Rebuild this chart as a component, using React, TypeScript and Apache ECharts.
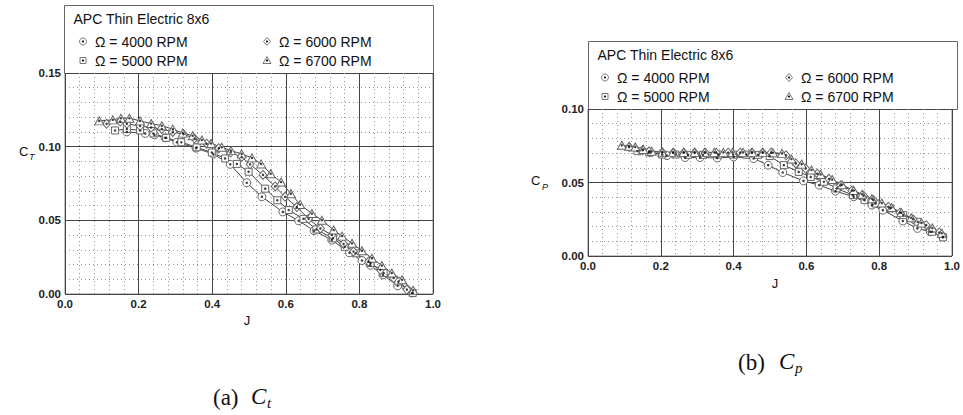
import React, { useEffect, useRef } from "react";
import * as echarts from "echarts";

// ---- Data: [J, coefficient] pairs per rotation speed ----
const seriesNames = ["Ω = 4000 RPM", "Ω = 5000 RPM", "Ω = 6000 RPM", "Ω = 6700 RPM"];

const ct4000 = [
  [0.168, 0.110], [0.218, 0.109], [0.243, 0.108], [0.272, 0.106], [0.304, 0.103],
  [0.356, 0.099], [0.403, 0.095], [0.449, 0.088], [0.494, 0.0755], [0.535, 0.066],
  [0.592, 0.0557], [0.635, 0.0497], [0.677, 0.043], [0.725, 0.0366], [0.773, 0.028],
  [0.807, 0.0227], [0.83, 0.0195], [0.864, 0.013], [0.904, 0.0056], [0.943, 0.0007],
];
const ct5000 = [
  [0.136, 0.111], [0.168, 0.112], [0.204, 0.111], [0.24, 0.109], [0.275, 0.106],
  [0.316, 0.103], [0.358, 0.0996], [0.399, 0.096], [0.435, 0.092], [0.467, 0.0883],
  [0.499, 0.083], [0.544, 0.0715], [0.577, 0.0636], [0.608, 0.057], [0.648, 0.051],
  [0.683, 0.0438], [0.728, 0.0378], [0.76, 0.032], [0.79, 0.0276], [0.83, 0.021],
  [0.866, 0.0142], [0.906, 0.0085], [0.945, 0.0007],
];
const ct6000 = [
  [0.113, 0.1155], [0.15, 0.117], [0.168, 0.1155], [0.204, 0.114], [0.234, 0.113],
  [0.263, 0.112], [0.293, 0.110], [0.322, 0.1085], [0.352, 0.1055], [0.385, 0.102],
  [0.418, 0.099], [0.45, 0.096], [0.48, 0.093], [0.503, 0.088], [0.538, 0.0808],
  [0.571, 0.073], [0.598, 0.066], [0.63, 0.059], [0.662, 0.051], [0.694, 0.0445],
  [0.725, 0.040], [0.757, 0.034], [0.784, 0.0288], [0.825, 0.022], [0.857, 0.0164],
  [0.893, 0.0108], [0.929, 0.003],
];
const ct6700 = [
  [0.093, 0.1175], [0.13, 0.1182], [0.152, 0.1193], [0.175, 0.1193], [0.204, 0.1175],
  [0.234, 0.1157], [0.263, 0.1142], [0.293, 0.1119], [0.32, 0.1092], [0.347, 0.1074],
  [0.372, 0.1045], [0.397, 0.1022], [0.426, 0.0996], [0.451, 0.0973], [0.48, 0.0951],
  [0.508, 0.0924], [0.533, 0.0883], [0.559, 0.0816], [0.587, 0.076], [0.614, 0.0681],
  [0.639, 0.0607], [0.671, 0.0546], [0.698, 0.0501], [0.73, 0.0434], [0.753, 0.0393],
  [0.78, 0.0344], [0.807, 0.0294], [0.834, 0.0243], [0.861, 0.0193], [0.888, 0.0142],
  [0.916, 0.0097], [0.946, 0.0025],
];

const cp4000 = [
  [0.172, 0.0704], [0.217, 0.0683], [0.267, 0.067], [0.308, 0.067], [0.355, 0.0667],
  [0.40, 0.0674], [0.455, 0.0663], [0.495, 0.0618], [0.535, 0.0568], [0.592, 0.0511],
  [0.635, 0.0482], [0.68, 0.0441], [0.73, 0.0403], [0.78, 0.0346], [0.81, 0.0312],
  [0.865, 0.0238], [0.905, 0.0188], [0.94, 0.0165], [0.975, 0.0131],
];
const cp5000 = [
  [0.136, 0.0713], [0.168, 0.0705], [0.204, 0.069], [0.24, 0.069], [0.275, 0.0688],
  [0.316, 0.0688], [0.358, 0.069], [0.399, 0.069], [0.435, 0.069], [0.467, 0.0688],
  [0.499, 0.068], [0.538, 0.0618], [0.579, 0.0572], [0.612, 0.0538], [0.648, 0.0505],
  [0.683, 0.046], [0.728, 0.0414], [0.76, 0.038], [0.79, 0.0357], [0.83, 0.0324],
  [0.866, 0.0278], [0.906, 0.0233], [0.945, 0.0165], [0.975, 0.0127],
];
const cp6000 = [
  [0.113, 0.0742], [0.15, 0.072], [0.168, 0.0712], [0.204, 0.0705], [0.234, 0.0703],
  [0.263, 0.0703], [0.293, 0.0703], [0.322, 0.0703], [0.352, 0.0703], [0.385, 0.0703],
  [0.418, 0.0703], [0.45, 0.0703], [0.48, 0.0703], [0.503, 0.0703], [0.544, 0.0685],
  [0.571, 0.063], [0.598, 0.0595], [0.63, 0.056], [0.662, 0.0525], [0.694, 0.048],
  [0.725, 0.0445], [0.757, 0.041], [0.784, 0.038], [0.825, 0.0335], [0.857, 0.0295],
  [0.893, 0.025], [0.929, 0.021], [0.965, 0.016],
];
const cp6700 = [
  [0.093, 0.0753], [0.113, 0.0747], [0.13, 0.0742], [0.152, 0.0725], [0.175, 0.0712],
  [0.204, 0.0706], [0.234, 0.0705], [0.263, 0.0705], [0.293, 0.0705], [0.32, 0.0705],
  [0.347, 0.0705], [0.372, 0.0705], [0.397, 0.0705], [0.426, 0.0705], [0.451, 0.0705],
  [0.48, 0.0705], [0.508, 0.0703], [0.533, 0.0698], [0.559, 0.066], [0.587, 0.0625],
  [0.614, 0.0585], [0.639, 0.0555], [0.671, 0.052], [0.698, 0.0485], [0.73, 0.0445],
  [0.753, 0.042], [0.78, 0.039], [0.807, 0.036], [0.834, 0.033], [0.861, 0.0295],
  [0.888, 0.026], [0.916, 0.0225], [0.946, 0.019], [0.972, 0.0155],
];

const xTicks = { min: 0, max: 1, interval: 0.2 };
const ctTicks = { min: 0, max: 0.15, interval: 0.05 };
const cpTicks = { min: 0, max: 0.1, interval: 0.05 };

const symbols = ["circle", "rect", "diamond", "triangle"];
const symbolSizes: any[] = [8, 7, [8, 9], [9, 8]];

const FONT = "'Liberation Sans', Arial, sans-serif";
const SERIF = "'Liberation Serif', 'DejaVu Serif', serif";

function axisPair(idx: number, ticks: any, yFmt: number) {
  const common = {
    gridIndex: idx,
    axisTick: { show: false },
    axisLine: { show: false },
    splitLine: { show: true, lineStyle: { color: "#444", width: 1 } },
    minorTick: { show: false, splitNumber: 5 },
    minorSplitLine: { show: true, lineStyle: { color: "#999", width: 1, type: [1, 3] } },
  };
  return {
    x: {
      ...common,
      type: "value",
      min: xTicks.min,
      max: xTicks.max,
      interval: xTicks.interval,
      axisLabel: {
        margin: 4,
        fontFamily: FONT,
        fontSize: 11.5,
        fontWeight: "bold",
        color: "#222",
        formatter: (v: number) => v.toFixed(1),
      },
    },
    y: {
      ...common,
      type: "value",
      min: ticks.min,
      max: ticks.max,
      interval: ticks.interval,
      axisLabel: {
        margin: 4,
        fontFamily: FONT,
        fontSize: 11.5,
        fontWeight: "bold",
        color: "#222",
        formatter: (v: number) => v.toFixed(yFmt),
      },
    },
  };
}

function makeSeries(data: number[][], i: number, axisIdx: number) {
  return [
    {
      type: "line",
      name: seriesNames[i],
      xAxisIndex: axisIdx,
      yAxisIndex: axisIdx,
      data,
      symbol: symbols[i],
      symbolSize: symbolSizes[i],
      showAllSymbol: true,
      itemStyle: { color: "#fff", borderColor: "#666", borderWidth: 1 },
      lineStyle: { color: "#444", width: 1 },
      z: 3,
    },
    {
      type: "scatter",
      xAxisIndex: axisIdx,
      yAxisIndex: axisIdx,
      data,
      symbol: "circle",
      symbolSize: 2.5,
      itemStyle: { color: "#111" },
      silent: true,
      z: 4,
    },
  ];
}

function legendSymbol(kind: string, cx: number, cy: number) {
  const style = { fill: "#fff", stroke: "#777", lineWidth: 1 };
  let shape: any;
  if (kind === "circle") shape = { type: "circle", shape: { cx, cy, r: 3.5 }, style };
  else if (kind === "rect") shape = { type: "rect", shape: { x: cx - 3, y: cy - 3, width: 6, height: 6 }, style };
  else if (kind === "diamond")
    shape = { type: "polygon", shape: { points: [[cx, cy - 4], [cx + 3.5, cy], [cx, cy + 4], [cx - 3.5, cy]] }, style };
  else shape = { type: "polygon", shape: { points: [[cx, cy - 4], [cx + 4, cy + 3], [cx - 4, cy + 3]] }, style };
  return [shape, { type: "circle", shape: { cx, cy, r: 1.1 }, style: { fill: "#111" } }];
}

function legendBox(x: number, y: number, w: number, h: number, sx: number, col2: number) {
  const els: any[] = [
    { type: "rect", shape: { x, y, width: w, height: h }, style: { fill: "#fff", stroke: "#666", lineWidth: 1 } },
    {
      type: "text",
      x: x + 9,
      y: y + 13,
      style: { text: "APC Thin Electric 8x6", font: `14px ${FONT}`, fill: "#111", verticalAlign: "middle" },
    },
  ];
  const pos = [
    [sx, y + 36],
    [sx, y + 55],
    [col2, y + 36],
    [col2, y + 55],
  ];
  for (let i = 0; i < 4; i++) {
    els.push(...legendSymbol(symbols[i], pos[i][0], pos[i][1]));
    els.push({
      type: "text",
      x: pos[i][0] + 12,
      y: pos[i][1],
      style: { text: seriesNames[i], font: `14px ${FONT}`, fill: "#111", verticalAlign: "middle" },
    });
  }
  return els;
}

function txt(text: string, x: number, y: number, font: string, align = "left") {
  return { type: "text", x, y, style: { text, font, fill: "#111", align, verticalAlign: "middle" } };
}

export default function App() {
  const ref = useRef<HTMLDivElement>(null);
  useEffect(() => {
    document.body.style.margin = "0";
    if (!ref.current) return;
    const chart = echarts.init(ref.current, undefined, { renderer: "svg" });
    const a0 = axisPair(0, ctTicks, 2);
    const a1 = axisPair(1, cpTicks, 2);
    const ctData = [ct4000, ct5000, ct6000, ct6700];
    const cpData = [cp4000, cp5000, cp6000, cp6700];
    const series: any[] = [];
    ctData.forEach((d, i) => series.push(...makeSeries(d, i, 0)));
    cpData.forEach((d, i) => series.push(...makeSeries(d, i, 1)));
    chart.setOption({
      animation: false,
      backgroundColor: "#fff",
      grid: [
        { left: 65, top: 73, width: 368, height: 221, show: true, borderColor: "#888", borderWidth: 1, backgroundColor: "transparent" },
        { left: 588, top: 109, width: 369, height: 147, show: true, borderColor: "#888", borderWidth: 1, backgroundColor: "transparent" },
      ],
      xAxis: [a0.x, a1.x],
      yAxis: [a0.y, a1.y],
      series,
      graphic: [
        ...legendBox(64.5, 5.5, 369, 68, 83, 267),
        ...legendBox(588.5, 41.5, 369, 68, 605, 789),
        // axis titles
        txt("C", 19, 151, `13px ${FONT}`),
        txt("T", 29, 157, `italic 9px ${FONT}`),
        txt("J", 247, 320, `13px ${FONT}`, "center"),
        txt("C", 531, 180, `13px ${FONT}`),
        txt("P", 542, 187, `italic 9px ${FONT}`),
        txt("J", 775, 283, `13px ${FONT}`, "center"),
        // captions
        txt("(a)", 213, 397, `23px ${SERIF}`),
        txt("C", 251, 396, `italic 23px ${SERIF}`),
        txt("t", 267, 403, `italic 15px ${SERIF}`),
        txt("(b)", 738, 362, `23px ${SERIF}`),
        txt("C", 779, 361, `italic 23px ${SERIF}`),
        txt("p", 795, 368, `italic 15px ${SERIF}`),
      ],
    });
    return () => chart.dispose();
  }, []);
  return <div ref={ref} style={{ width: 963, height: 415 }} />;
}
